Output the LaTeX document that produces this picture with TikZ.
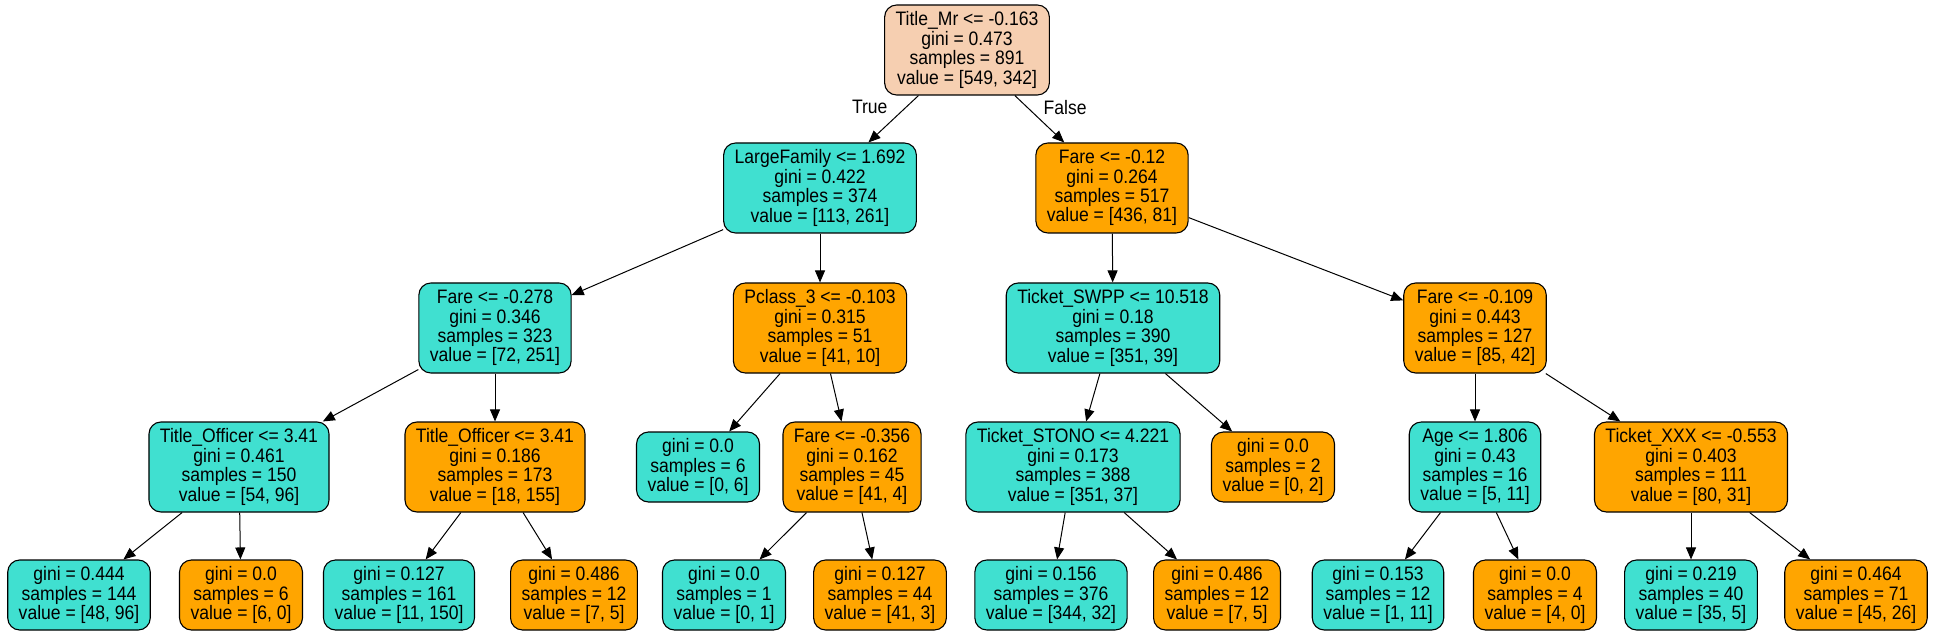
\documentclass[tikz,border=0pt]{standalone}
\usepackage{fontspec}
\setmainfont{Liberation Sans}[FakeStretch=0.9]
\usepackage{xcolor}
\usetikzlibrary{arrows.meta}

\definecolor{turq}{RGB}{64,224,208}
\definecolor{amber}{RGB}{255,165,0}
\definecolor{peach}{RGB}{246,207,177}

\begin{document}
\begin{tikzpicture}[
  x=1pt, y=-1pt,
  box/.style={draw, line width=1.1pt, rounded corners=12pt, align=center, inner xsep=11pt, inner ysep=0pt,
    font=\fontsize{19.5}{19.4}\selectfont},
  split/.style={box, minimum height=90pt},
  leaf/.style={box, minimum height=70pt},
  arrow/.style={-{Triangle[length=12pt, width=10pt]}, line width=1pt},
  lbl/.style={inner sep=0pt, font=\fontsize{19.5}{19.4}\selectfont}
]
  \useasboundingbox (0,0) rectangle (1935,636);

  % level 0
  \node[split, fill=peach] (root) at (967,50) {Title\_Mr <= -0.163\\gini = 0.473\\samples = 891\\value = [549, 342]};

  % level 1
  \node[split, fill=turq] (family) at (820,188) {LargeFamily <= 1.692\\gini = 0.422\\samples = 374\\value = [113, 261]};
  \node[split, fill=amber] (fareA) at (1112,188) {Fare <= -0.12\\gini = 0.264\\samples = 517\\value = [436, 81]};

  % level 2
  \node[split, fill=turq] (fareB) at (495,328) {Fare <= -0.278\\gini = 0.346\\samples = 323\\value = [72, 251]};
  \node[split, fill=amber] (pclass) at (820,328) {Pclass\_3 <= -0.103\\gini = 0.315\\samples = 51\\value = [41, 10]};
  \node[split, fill=turq] (swpp) at (1113,328) {Ticket\_SWPP <= 10.518\\gini = 0.18\\samples = 390\\value = [351, 39]};
  \node[split, fill=amber] (fareC) at (1475,328) {Fare <= -0.109\\gini = 0.443\\samples = 127\\value = [85, 42]};

  % level 3
  \node[split, fill=turq] (officerA) at (239,467) {Title\_Officer <= 3.41\\gini = 0.461\\samples = 150\\value = [54, 96]};
  \node[split, fill=amber] (officerB) at (495,467) {Title\_Officer <= 3.41\\gini = 0.186\\samples = 173\\value = [18, 155]};
  \node[leaf, fill=turq] (leafP) at (698,467) {gini = 0.0\\samples = 6\\value = [0, 6]};
  \node[split, fill=amber] (fareD) at (852,467) {Fare <= -0.356\\gini = 0.162\\samples = 45\\value = [41, 4]};
  \node[split, fill=turq] (stono) at (1073,467) {Ticket\_STONO <= 4.221\\gini = 0.173\\samples = 388\\value = [351, 37]};
  \node[leaf, fill=amber] (leafS) at (1273,467) {gini = 0.0\\samples = 2\\value = [0, 2]};
  \node[split, fill=turq] (age) at (1475,467) {Age <= 1.806\\gini = 0.43\\samples = 16\\value = [5, 11]};
  \node[split, fill=amber] (xxx) at (1691,467) {Ticket\_XXX <= -0.553\\gini = 0.403\\samples = 111\\value = [80, 31]};

  % level 4
  \node[leaf, fill=turq] (l1) at (79,595) {gini = 0.444\\samples = 144\\value = [48, 96]};
  \node[leaf, fill=amber] (l2) at (241,595) {gini = 0.0\\samples = 6\\value = [6, 0]};
  \node[leaf, fill=turq] (l3) at (399,595) {gini = 0.127\\samples = 161\\value = [11, 150]};
  \node[leaf, fill=amber] (l4) at (574,595) {gini = 0.486\\samples = 12\\value = [7, 5]};
  \node[leaf, fill=turq] (l5) at (724,595) {gini = 0.0\\samples = 1\\value = [0, 1]};
  \node[leaf, fill=amber] (l6) at (880,595) {gini = 0.127\\samples = 44\\value = [41, 3]};
  \node[leaf, fill=turq] (l7) at (1051,595) {gini = 0.156\\samples = 376\\value = [344, 32]};
  \node[leaf, fill=amber] (l8) at (1217,595) {gini = 0.486\\samples = 12\\value = [7, 5]};
  \node[leaf, fill=turq] (l9) at (1378,595) {gini = 0.153\\samples = 12\\value = [1, 11]};
  \node[leaf, fill=amber] (l10) at (1535,595) {gini = 0.0\\samples = 4\\value = [4, 0]};
  \node[leaf, fill=turq] (l11) at (1691,595) {gini = 0.219\\samples = 40\\value = [35, 5]};
  \node[leaf, fill=amber] (l12) at (1856,595) {gini = 0.464\\samples = 71\\value = [45, 26]};

  % edges
  \draw[arrow] (root) -- node[lbl, pos=0.25, left=18pt]{True} (family);
  \draw[arrow] (root) -- node[lbl, pos=0.25, right=16pt]{False} (fareA);
  \foreach \a/\b in {family/fareB, family/pclass, fareA/swpp, fareA/fareC,
                     fareB/officerA, fareB/officerB, pclass/leafP, pclass/fareD,
                     swpp/stono, swpp/leafS, fareC/age, fareC/xxx,
                     officerA/l1, officerA/l2, officerB/l3, officerB/l4,
                     fareD/l5, fareD/l6, stono/l7, stono/l8,
                     age/l9, age/l10, xxx/l11, xxx/l12}
    \draw[arrow] (\a) -- (\b);
\end{tikzpicture}
\end{document}
